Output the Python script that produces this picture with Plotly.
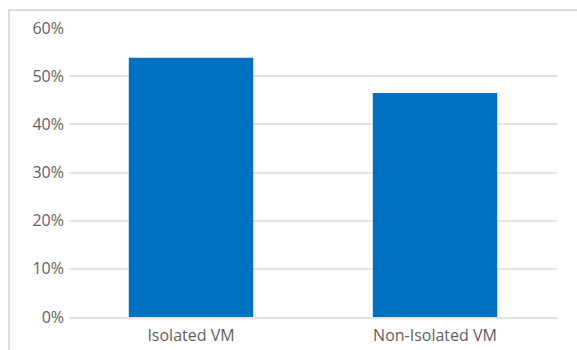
import plotly.graph_objects as go

categories = ["Isolated VM", "Non-Isolated VM"]
values = [53.8, 46.5]
tick_vals = [0, 10, 20, 30, 40, 50, 60]
tick_text = ["0%", "10%", "20%", "30%", "40%", "50%", "60%"]

fig = go.Figure(go.Bar(x=categories, y=values, marker=dict(color="#0070C0", line=dict(width=0))))

fig.update_layout(
    width=577, height=350,
    margin=dict(l=69, r=20, t=28, b=33),
    paper_bgcolor="white", plot_bgcolor="white",
    bargap=0.49,
    showlegend=False,
    font=dict(family="Open Sans", size=16, color="#5f5f5f"),
    shapes=[dict(type="rect", xref="paper", yref="paper", x0=-0.123, x1=1.2, y0=-0.3, y1=1.0623,
                 line=dict(color="#dcdcdc", width=2), layer="below")],
)
fig.update_yaxes(range=[0, 60], tickvals=tick_vals, ticktext=tick_text, showgrid=True,
                 gridcolor="#e4e4e4", gridwidth=1.5, zeroline=False, showline=False,
                 ticks="", ticklabelstandoff=4, automargin=False)
fig.update_xaxes(showgrid=False, showline=True, linecolor="#e4e4e4", linewidth=1.5, ticks="",
                 ticklabelstandoff=3, automargin=False)

fig.write_html("out.html")
